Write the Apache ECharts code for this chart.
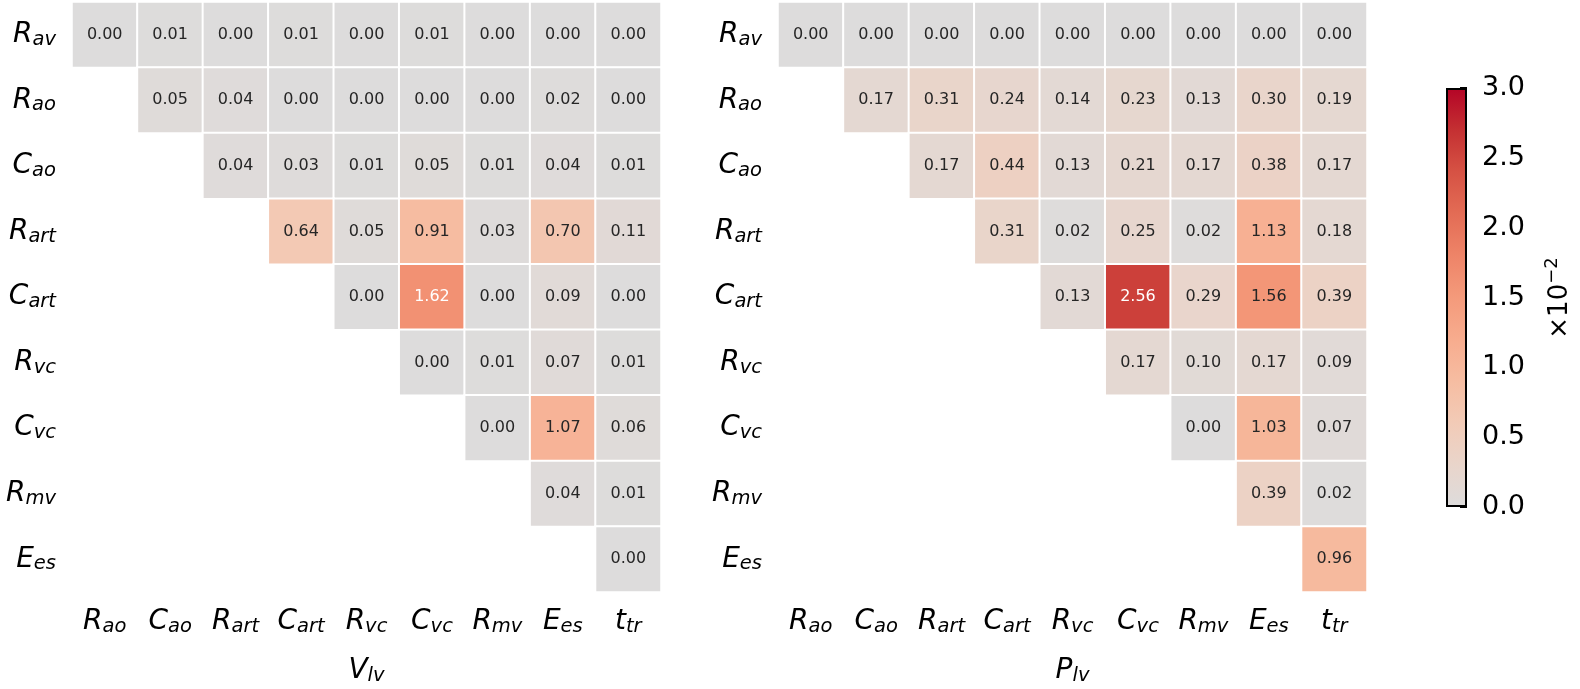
<!DOCTYPE html>
<html>
<head>
<meta charset="utf-8">
<script src="https://cdn.jsdelivr.net/npm/echarts@6/dist/echarts.min.js"></script>
<style>html,body{margin:0;padding:0;background:#fff;overflow:hidden;}#c{width:1580px;height:689px;}</style>
</head>
<body>
<div id="c"></div>
<script>
// Row (y) labels: [base, subscript]
var rowLabels = [['R','av'],['R','ao'],['C','ao'],['R','art'],['C','art'],['R','vc'],['C','vc'],['R','mv'],['E','es']];
// Column (x) labels
var colLabels = [['R','ao'],['C','ao'],['R','art'],['C','art'],['R','vc'],['C','vc'],['R','mv'],['E','es'],['t','tr']];
// Values (×10^-2), null = not shown
var vlvValues = [
  [0.00,0.01,0.00,0.01,0.00,0.01,0.00,0.00,0.00],
  [null,0.05,0.04,0.00,0.00,0.00,0.00,0.02,0.00],
  [null,null,0.04,0.03,0.01,0.05,0.01,0.04,0.01],
  [null,null,null,0.64,0.05,0.91,0.03,0.70,0.11],
  [null,null,null,null,0.00,1.62,0.00,0.09,0.00],
  [null,null,null,null,null,0.00,0.01,0.07,0.01],
  [null,null,null,null,null,null,0.00,1.07,0.06],
  [null,null,null,null,null,null,null,0.04,0.01],
  [null,null,null,null,null,null,null,null,0.00]
];
var plvValues = [
  [0.00,0.00,0.00,0.00,0.00,0.00,0.00,0.00,0.00],
  [null,0.17,0.31,0.24,0.14,0.23,0.13,0.30,0.19],
  [null,null,0.17,0.44,0.13,0.21,0.17,0.38,0.17],
  [null,null,null,0.31,0.02,0.25,0.02,1.13,0.18],
  [null,null,null,null,0.13,2.56,0.29,1.56,0.39],
  [null,null,null,null,null,0.17,0.10,0.17,0.09],
  [null,null,null,null,null,null,0.00,1.03,0.07],
  [null,null,null,null,null,null,null,0.39,0.02],
  [null,null,null,null,null,null,null,null,0.96]
];
var cbTicks = [0.0,0.5,1.0,1.5,2.0,2.5,3.0];
var cmap = ['#dddcdc','#e9d5cb','#f2cbb7','#f6bda2','#f7ac8e','#f49a7b','#ee8468','#e36c55','#d65244','#c43032','#b40426'];

var FONT = 'DejaVu Sans';
function lab(p){ return '{b|' + p[0] + '}{s|' + p[1] + '}'; }
var rowNames = rowLabels.map(lab);
var colNames = colLabels.map(lab);
var richLab = {
  b: {fontFamily: FONT, fontStyle: 'italic', fontSize: 28, color: '#000'},
  s: {fontFamily: FONT, fontStyle: 'italic', fontSize: 19.5, color: '#000', verticalAlign: 'bottom', padding: [10,0,0,0]}
};

function buildData(m){
  var out = [];
  for (var r = 0; r < m.length; r++) {
    for (var c = 0; c < m[r].length; c++) {
      var v = m[r][c];
      if (v === null) continue;
      out.push({value: [c, r, v], label: {color: v >= 1.6 ? '#ffffff' : '#262626'}});
    }
  }
  return out;
}

var chart = echarts.init(document.getElementById('c'), null, {renderer: 'canvas'});

function xAx(gi, name){
  return {
    type: 'category', gridIndex: gi, data: colNames,
    axisLine: {show: false}, axisTick: {show: false}, splitLine: {show: false},
    axisLabel: {rich: richLab, margin: 15, interval: 0, hideOverlap: false, formatter: function(v){return v;}},
    name: name, nameLocation: 'middle', nameGap: 64,
    nameTextStyle: {rich: richLab}
  };
}
function yAx(gi){
  return {
    type: 'category', gridIndex: gi, data: rowNames, inverse: true,
    axisLine: {show: false}, axisTick: {show: false}, splitLine: {show: false},
    axisLabel: {rich: richLab, margin: 16, interval: 0, formatter: function(v){return v;}}
  };
}
function hm(gi, data){
  return {
    type: 'heatmap', xAxisIndex: gi, yAxisIndex: gi, data: data,
    itemStyle: {borderColor: '#ffffff', borderWidth: 2},
    label: {show: true, fontFamily: FONT, fontSize: 16,
      formatter: function(p){ return p.value[2].toFixed(2); }},
    emphasis: {disabled: true}
  };
}

var option = {
  backgroundColor: '#ffffff',
  animation: false,
  grid: [
    {left: 72, top: 2, width: 589, height: 590, containLabel: false, outerBoundsMode: 'none'},
    {left: 778, top: 2, width: 589, height: 590, containLabel: false, outerBoundsMode: 'none'},
    {left: 1446, top: 88, width: 21, height: 419, containLabel: false, outerBoundsMode: 'none'}
  ],
  xAxis: [
    xAx(0, '{b|V}{s|lv}'),
    xAx(1, '{b|P}{s|lv}'),
    {type: 'category', gridIndex: 2, data: ['cb'], show: false}
  ],
  yAxis: [
    yAx(0), yAx(1),
    {type: 'value', gridIndex: 2, min: 0, max: 3, interval: 0.5, position: 'right',
     axisLine: {show: false}, splitLine: {show: false},
     axisTick: {show: true, inside: true, length: 7, lineStyle: {color: '#000', width: 2}},
     axisLabel: {fontFamily: FONT, fontSize: 27, color: '#000', margin: 15,
       formatter: function(v){ return cbTicks.indexOf(v) >= 0 ? v.toFixed(1) : ''; }}}
  ],
  visualMap: {
    show: false, type: 'continuous', min: 0, max: 3, seriesIndex: [0, 1],
    inRange: {color: cmap}
  },
  series: [
    hm(0, buildData(vlvValues)),
    hm(1, buildData(plvValues)),
    {type: 'bar', xAxisIndex: 2, yAxisIndex: 2, data: [3], barWidth: '100%', silent: true,
     itemStyle: {borderColor: '#000', borderWidth: 2,
       color: new echarts.graphic.LinearGradient(0, 1, 0, 0, cmap.map(function(c, i){ return {offset: i/(cmap.length-1), color: c}; }))}}
  ],
  graphic: [{
    type: 'text', x: 1558, y: 298, rotation: Math.PI/2,
    style: {
      text: '{a|×10}{p|−2}', align: 'center', verticalAlign: 'middle',
      rich: {
        a: {fontFamily: FONT, fontSize: 26, color: '#000', verticalAlign: 'bottom'},
        p: {fontFamily: FONT, fontSize: 18, color: '#000', verticalAlign: 'top', padding: [0,0,12,0]}
      }
    }
  }]
};
chart.setOption(option);
</script>
</body>
</html>
